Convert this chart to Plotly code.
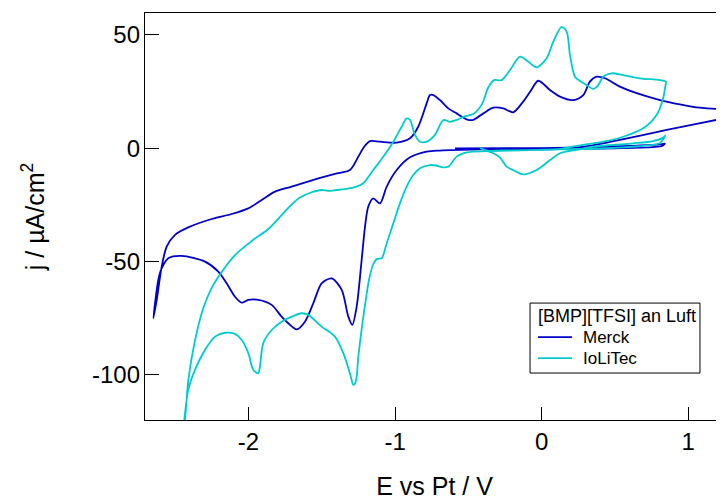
import plotly.graph_objects as go

# Cyclic voltammograms of [BMP][TFSI] in air
merck_E = [-0.591, -0.005, 0.398, 0.807, 0.841, 0.821, 0.398, -0.005, -0.421, -0.694,
           -0.784, -0.898, -0.989, -1.057, -1.103, -1.149, -1.183, -1.205, -1.228, -1.262,
           -1.292, -1.319, -1.364, -1.432, -1.501, -1.558, -1.615, -1.671, -1.729, -1.774,
           -1.842, -1.933, -2.001, -2.046, -2.092, -2.149, -2.206, -2.297, -2.456, -2.547,
           -2.592, -2.615, -2.649,
           -2.626, -2.592, -2.558, -2.501, -2.411, -2.251, -2.115, -2.001, -1.910, -1.819,
           -1.705, -1.546, -1.410, -1.308, -1.251, -1.212, -1.171, -1.103, -0.989, -0.898,
           -0.842, -0.784, -0.762, -0.739, -0.694, -0.637, -0.580, -0.512, -0.467, -0.398,
           -0.330, -0.262, -0.194, -0.126, -0.080, -0.023, 0.057, 0.125, 0.216, 0.284,
           0.329, 0.375, 0.432, 0.534, 0.648, 0.807, 0.943, 1.080, 1.244, 1.571,
           1.244, 0.853, 0.534, 0.329, 0.125, -0.148, -0.421]
merck_j = [0.0, 0.1, 0.6, 1.7, 2.1, 1.0, -0.1, -0.3, -0.5, -1.0,
           -1.5, -4.0, -9.6, -16.9, -24.3, -22.1, -25.8, -34.6, -49.3, -69.9,
           -77.9, -74.3, -62.5, -57.4, -59.6, -68.4, -76.5, -79.9, -77.2, -74.3,
           -69.1, -66.9, -66.9, -68.1, -65.5, -59.6, -54.4, -50.0, -47.5, -48.5,
           -52.9, -58.0, -75.0,
           -66.9, -52.2, -43.4, -38.2, -34.9, -31.2, -29.0, -26.5, -22.8, -19.1,
           -16.9, -13.7, -11.3, -9.6, -3.7, 0.6, 3.2, 2.9, 2.5, 4.4,
           9.5, 19.9, 23.5, 23.5, 21.3, 17.6, 15.4, 12.8, 12.5, 15.4,
           17.9, 17.6, 15.9, 20.6, 24.8, 29.8, 25.7, 22.8, 21.3, 23.5,
           29.4, 31.6, 30.9, 27.2, 24.3, 21.3, 19.4, 17.9, 17.2, 17.1,
           13.2, 8.1, 3.7, 1.1, -0.3, -0.5, -0.5]

iolitec_E = [-0.421, -0.330, -0.284, -0.239, -0.194, -0.126, -0.034, 0.057, 0.125, 0.239,
             0.352, 0.488, 0.625, 0.761, 0.829, 0.843,
             0.807, 0.602, 0.398, 0.125, -0.080, -0.353, -0.467, -0.535, -0.580, -0.637,
             -0.671, -0.721, -0.762, -0.830, -0.876, -0.921, -0.967, -1.012, -1.057, -1.091,
             -1.123, -1.151, -1.178, -1.205, -1.233, -1.251, -1.263, -1.274, -1.285, -1.308,
             -1.353, -1.410, -1.501, -1.592, -1.637, -1.705, -1.774, -1.842, -1.899, -1.922,
             -1.933, -1.967, -2.001, -2.046, -2.092, -2.160, -2.228, -2.297, -2.365, -2.411,
             -2.438, -2.454,
             -2.433, -2.411, -2.365, -2.308, -2.251, -2.183, -2.092, -1.978, -1.865, -1.785,
             -1.717, -1.649, -1.569, -1.501, -1.456, -1.398, -1.342, -1.262, -1.217, -1.149,
             -1.080, -1.012, -0.955, -0.921, -0.898, -0.864, -0.830, -0.784, -0.728, -0.671,
             -0.625, -0.580, -0.535, -0.467, -0.407, -0.366, -0.325, -0.273, -0.216, -0.148,
             -0.091, -0.034, 0.034, 0.079, 0.136, 0.171, 0.193, 0.227, 0.261, 0.307,
             0.352, 0.386, 0.420, 0.477, 0.557, 0.671, 0.807, 0.848, 0.843, 0.829,
             0.784, 0.693, 0.557, 0.420, 0.284, 0.147, 0.102, -0.080, -0.284]
iolitec_j = [0.1, -2.2, -4.1, -8.1, -9.6, -11.5, -9.6, -5.2, -2.2, -0.7,
             0.7, 1.5, 2.2, 3.2, 4.7, 5.6,
             2.3, 0.6, -0.1, -0.5, -0.8, -1.2, -1.5, -2.2, -3.7, -8.1,
             -8.4, -7.6, -7.4, -8.8, -11.8, -16.9, -24.3, -33.1, -41.9, -48.5,
             -48.8, -51.5, -58.1, -69.1, -82.4, -92.1, -101.3, -103.9, -104.4, -99.3,
             -90.4, -83.1, -78.7, -73.5, -72.8, -74.3, -76.5, -80.2, -86.0, -96.3,
             -99.3, -97.8, -90.4, -84.6, -81.9, -81.4, -83.1, -89.0, -97.8, -106.6,
             -119.9, -130.9,
             -119.9, -102.5, -84.8, -70.5, -61.6, -54.6, -47.1, -40.9, -35.6, -30.3,
             -25.5, -21.7, -19.4, -18.4, -18.8, -18.4, -18.0, -16.9, -15.4, -9.6,
             -3.7, 2.9, 9.5, 13.2, 12.5, 5.9, 2.9, 2.9, 5.9, 12.5,
             11.7, 12.5, 13.9, 15.1, 19.5, 26.6, 30.1, 30.1, 34.5, 40.4,
             38.2, 35.7, 39.7, 47.0, 53.6, 51.4, 41.2, 31.6, 29.7, 27.9,
             26.2, 27.9, 31.6, 33.1, 32.3, 30.9, 30.1, 29.4, 27.2, 22.1,
             14.7, 8.8, 5.1, 2.9, 1.5, 0.0, -0.4, -0.8, -0.9]

x_ticks = [-2, -1, 0, 1]
x_labels = ["-2", "-1", "0", "1"]
y_ticks = [-100, -50, 0, 50]
y_labels = ["-100", "-50", "0", "50"]

legend_title = "[BMP][TFSI] an Luft"
names = ["Merck", "IoLiTec"]
colors = ["rgb(0,0,204)", "rgb(0,204,204)"]

font = "Liberation Sans, Arial, sans-serif"

fig = go.Figure()
for name, color, E, j in zip(names, colors, [merck_E, iolitec_E], [merck_j, iolitec_j]):
    fig.add_trace(go.Scatter(x=E, y=j, mode="lines", name=name, showlegend=False,
                             line=dict(color=color, width=1.8,
                                       shape="spline", smoothing=0.8)))

# Igor-style legend box drawn by hand (paper coordinates)
box_x0, box_x1, box_y0, box_y1 = 0.665, 0.9585, 0.1154, 0.2873
fig.add_shape(type="rect", xref="paper", yref="paper",
              x0=box_x0, x1=box_x1, y0=box_y0, y1=box_y1,
              line=dict(color="black", width=1), fillcolor="white", layer="above")
fig.add_annotation(xref="paper", yref="paper", x=0.6753, y=0.2553,
                   text=legend_title, showarrow=False, xanchor="left", yanchor="middle",
                   font=dict(size=18))
row_y = [0.2038, 0.1522]
for name, color, ry in zip(names, colors, row_y):
    fig.add_shape(type="line", xref="paper", yref="paper",
                  x0=0.6788, x1=0.7375, y0=ry, y1=ry,
                  line=dict(color=color, width=1.8), layer="above")
    fig.add_annotation(xref="paper", yref="paper", x=0.7530, y=ry,
                       text=name, showarrow=False, xanchor="left", yanchor="middle",
                       font=dict(size=17))

# the page body has an 8px margin, so the figure is 716x492 to fill the window
fig.update_layout(
    width=716, height=492,
    margin=dict(l=137, r=0, t=5, b=80),
    paper_bgcolor="white", plot_bgcolor="white",
    font=dict(family=font, color="black"),
    showlegend=False,
    xaxis=dict(
        range=[-2.706, 1.244], showgrid=False, zeroline=False, automargin=False,
        showline=True, linecolor="black", linewidth=1.3, mirror=True,
        ticks="inside", ticklen=13, tickwidth=1.3, tickcolor="black",
        tickvals=x_ticks, ticktext=x_labels, tickfont=dict(size=24),
        title=dict(text="E vs Pt / V", font=dict(size=25), standoff=28),
    ),
    yaxis=dict(
        range=[-119.9, 59.7], showgrid=False, zeroline=False, automargin=False,
        showline=True, linecolor="black", linewidth=1.3,
        ticks="inside", ticklen=14, tickwidth=1.3, tickcolor="black",
        tickvals=y_ticks, ticktext=y_labels, tickfont=dict(size=24),
        ticklabelstandoff=-1,
        title=dict(text="j / µA/cm<sup>2</sup>", font=dict(size=25), standoff=40),
    ),
)

fig.write_html("out.html")
